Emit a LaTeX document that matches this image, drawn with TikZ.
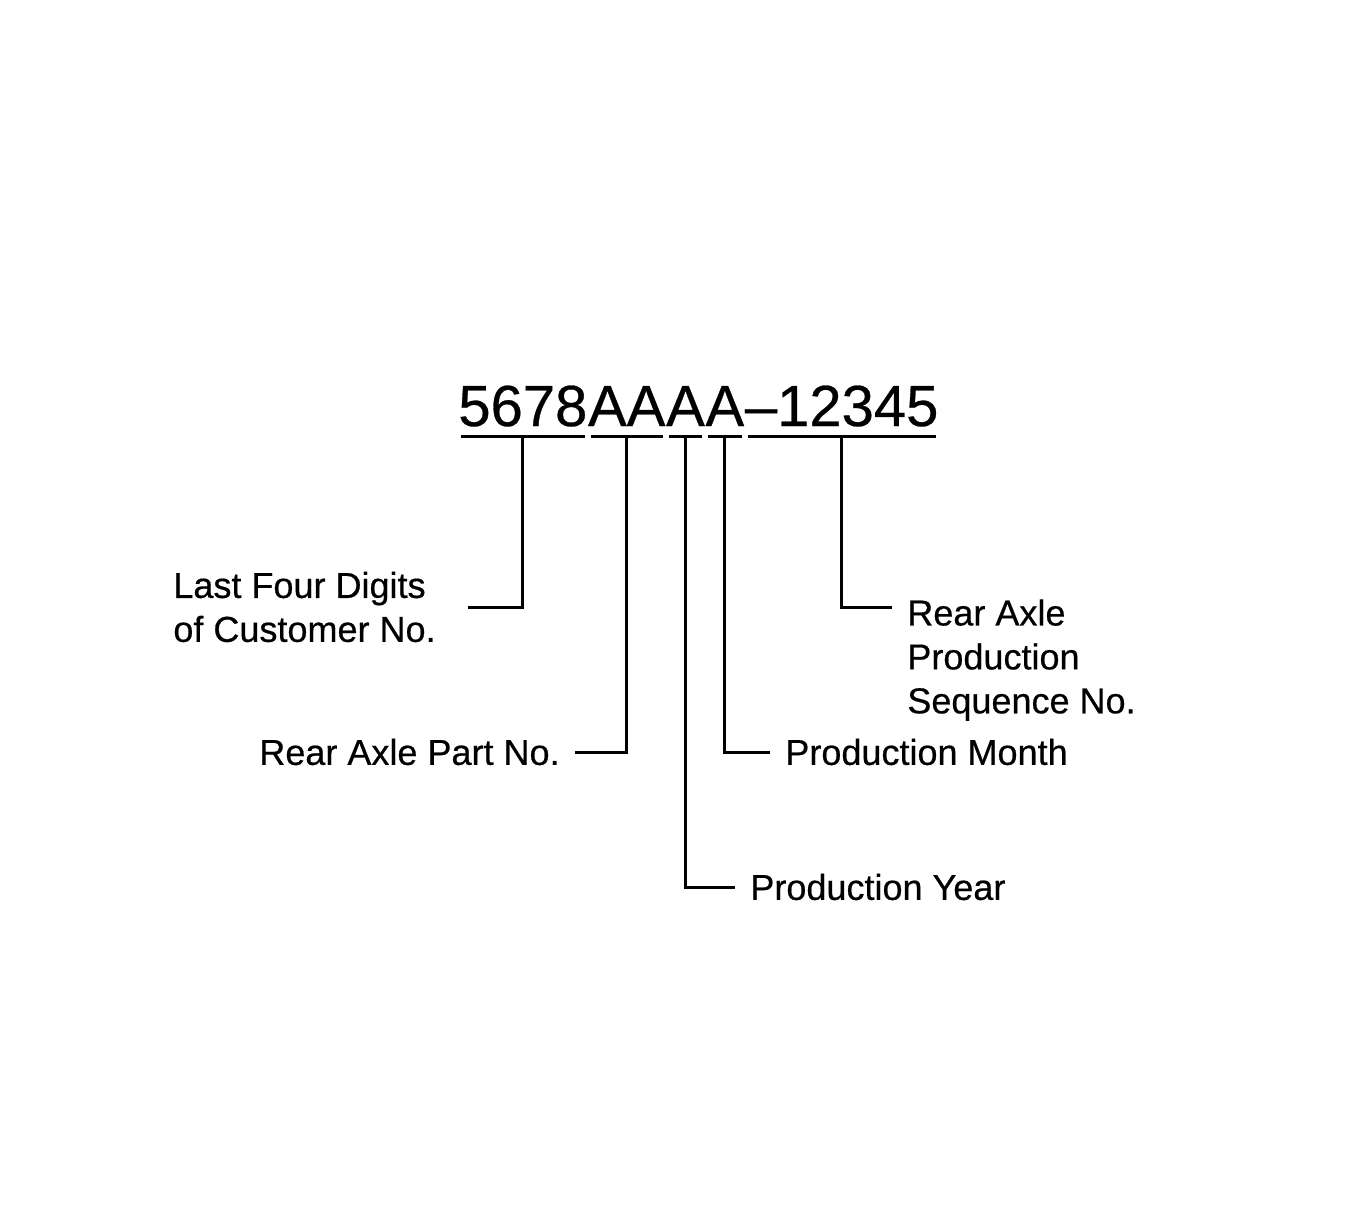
\documentclass[tikz,border=0pt]{standalone}
\usepackage{fontspec}
\setmainfont[FakeBold=0.5]{Liberation Sans}
\usetikzlibrary{positioning}

\begin{document}
\begin{tikzpicture}[
    field/.style={inner sep=0pt,text depth=0pt,text height=0.72em,
      font=\fontsize{33}{40}\selectfont},
    lbl/.style={inner xsep=0.3cm,inner ysep=0pt,align=left,
      font=\fontsize{20.5}{25}\selectfont},
    uline/.style={line width=1.8pt,shorten <=0.06cm,shorten >=0.06cm},
    leader/.style={line width=1.7pt}
  ]
  \fill[white] (0,0) rectangle (27.1,-24.42);
  \useasboundingbox (0,0) rectangle (27.1,-24.42);

  % the code, one node per field
  \node[field,anchor=base west] (cust) at (9.16,-8.52) {5678};
  \node[field,right=0pt of cust] (part) {AA};
  \node[field,right=0pt of part] (year) {A};
  \node[field,right=0pt of year] (month) {A};
  \node[field,right=0pt of month] (seq) {--12345};

  \foreach \f in {cust,part,year,month,seq}
    \draw[uline] ([yshift=-0.2cm]\f.south west) -- ([yshift=-0.2cm]\f.south east);

  % labels
  \node[lbl,inner xsep=0.64cm,anchor=east] (custlbl) at (9.36,-12.14) {Last Four Digits\\of Customer No.};
  \node[lbl,anchor=east] (partlbl) at (11.5,-15.04) {Rear Axle Part No.};
  \node[lbl,anchor=west] (yearlbl) at (14.7,-17.74) {Production Year};
  \node[lbl,anchor=west] (monthlbl) at (15.4,-15.04) {Production Month};
  \node[lbl,anchor=north west] (seqlbl) at (17.84,-11.98) {Rear Axle\\Production\\Sequence No.};

  % leaders
  \draw[leader] ([yshift=-0.2cm]cust.south) |- (custlbl.east);
  \draw[leader] ([yshift=-0.2cm]part.south) |- (partlbl.east);
  \draw[leader] ([yshift=-0.2cm]year.south) |- (yearlbl.west);
  \draw[leader] ([yshift=-0.2cm]month.south) |- (monthlbl.west);
  \draw[leader] ([yshift=-0.2cm]seq.south) |- ([yshift=-0.16cm]seqlbl.north west);
\end{tikzpicture}
\end{document}
